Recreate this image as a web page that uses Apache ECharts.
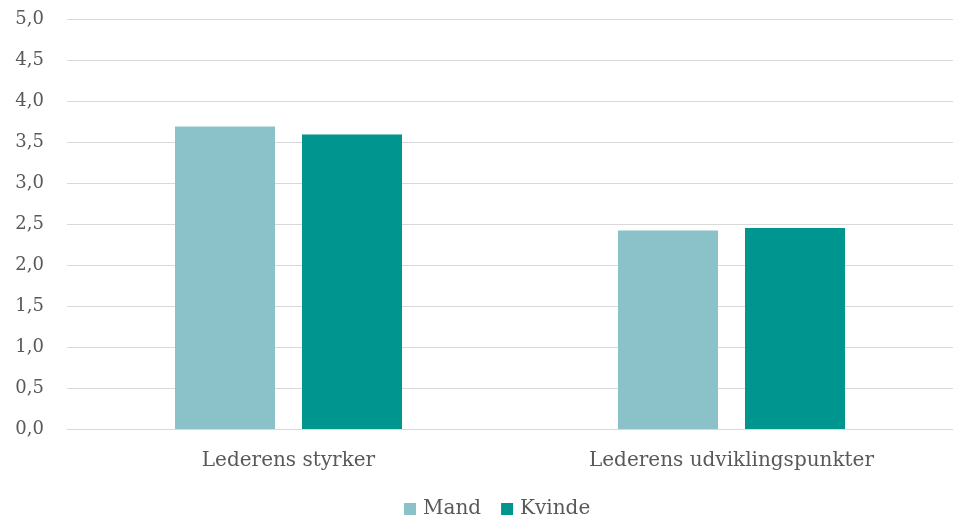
<!DOCTYPE html>
<html><head><meta charset="utf-8">
<script src="https://cdn.jsdelivr.net/npm/echarts@6/dist/echarts.min.js"></script>
<style>html,body{margin:0;padding:0;background:#fff}#c{width:953px;height:521px}</style>
</head><body><div id="c"></div>
<script>
const categories = ['Lederens styrker', 'Lederens udviklingspunkter'];
const mand = [3.69, 2.42];
const kvinde = [3.59, 2.45];
const seriesNames = ['Mand', 'Kvinde'];
const FONT = 'DejaVu Serif';
const chart = echarts.init(document.getElementById('c'), null, {renderer: 'canvas'});
chart.setOption({
  animation: false,
  textStyle: {fontFamily: FONT},
  grid: {left: 67, width: 891, top: 19, height: 410, containLabel: false},
  legend: {
    top: 499, left: 404, padding: 0, itemWidth: 12, itemHeight: 12, itemGap: 20,
    icon: 'rect',
    textStyle: {fontFamily: FONT, fontSize: 20, color: '#595959', padding: [0, 0, 0, 2]},
    data: seriesNames
  },
  xAxis: {
    type: 'category', data: categories,
    axisLine: {lineStyle: {color: '#d9d9d9'}},
    axisTick: {show: false},
    axisLabel: {fontFamily: FONT, fontSize: 20, color: '#595959', margin: 22}
  },
  yAxis: {
    type: 'value', min: 0, max: 5, interval: 0.5,
    axisLine: {show: false}, axisTick: {show: false},
    splitLine: {lineStyle: {color: '#d9d9d9', width: 1}},
    axisLabel: {fontFamily: FONT, fontSize: 18, color: '#595959', margin: 23,
      formatter: v => v.toFixed(1).replace('.', ',')}
  },
  series: [
    {name: seriesNames[0], type: 'bar', data: mand, barWidth: 100, barGap: '27%',
     itemStyle: {color: '#8bc1c8'}},
    {name: seriesNames[1], type: 'bar', data: kvinde, barWidth: 100,
     itemStyle: {color: '#00968f'}}
  ]
});
</script></body></html>
